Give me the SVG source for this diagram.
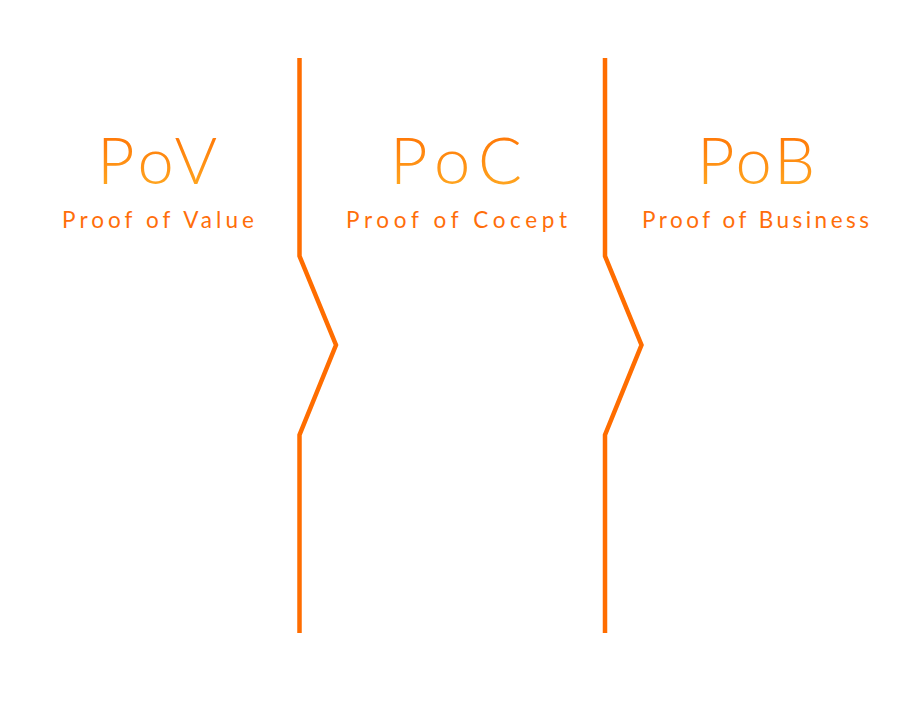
<svg xmlns="http://www.w3.org/2000/svg" width="914" height="716" viewBox="0 0 914 716">
<defs>
<linearGradient id="tg" x1="0" y1="0" x2="0" y2="1">
<stop offset="0" stop-color="#ff6a00"/>
<stop offset="1" stop-color="#ffb025"/>
</linearGradient>
<style>
.title{font-family:Lato,"Open Sans",sans-serif;font-weight:300;font-size:65px;fill:url(#tg);text-anchor:middle}
.sub{font-family:Lato,"Open Sans",sans-serif;font-weight:400;font-size:22.5px;fill:#ff6e0a;text-anchor:middle}
.sep{fill:none;stroke:#ff6d00;stroke-width:4.5;stroke-linejoin:miter}
</style>
</defs>
<rect width="914" height="716" fill="#ffffff"/>
<g id="pov">
<text class="title" x="157" y="184" textLength="120" lengthAdjust="spacing">PoV</text>
<text class="sub" x="158" y="228" textLength="192" lengthAdjust="spacing">Proof of Value</text>
</g>
<g id="poc">
<text class="title" x="456" y="184" textLength="132" lengthAdjust="spacing">PoC</text>
<text class="sub" x="456.5" y="228" textLength="221" lengthAdjust="spacing">Proof of Cocept</text>
</g>
<g id="pob">
<text class="title" x="756" y="184" textLength="118" lengthAdjust="spacing">PoB</text>
<text class="sub" x="755.5" y="228" textLength="227" lengthAdjust="spacing">Proof of Business</text>
</g>
<g id="connectors">
<polyline class="sep" points="299.5,58 299.5,256 336,345 299.5,435 299.5,633"/>
<polyline class="sep" points="605,58 605,256 641.5,345 605,435 605,633"/>
</g>
</svg>
